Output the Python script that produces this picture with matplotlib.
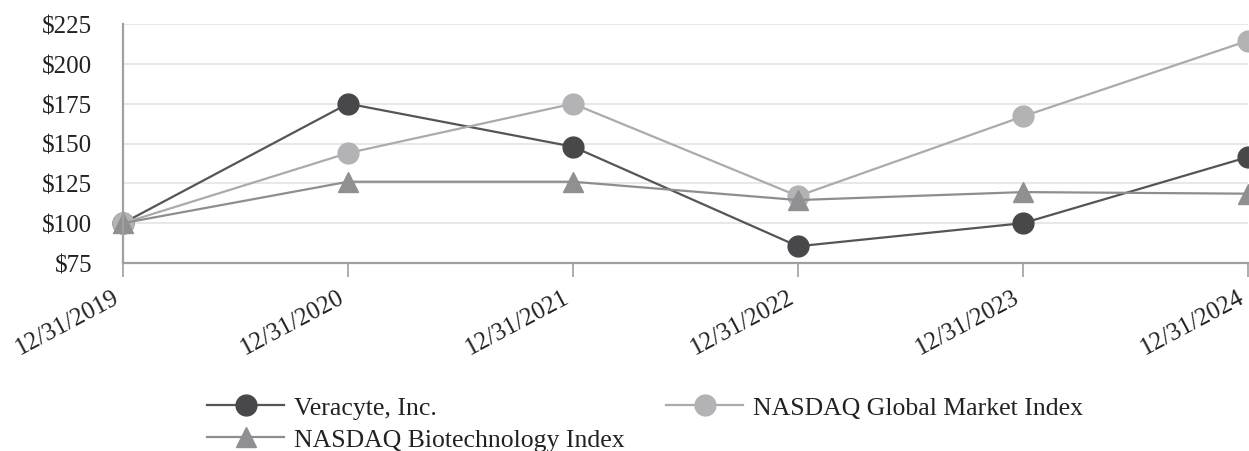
import matplotlib
matplotlib.use("Agg")
import matplotlib.pyplot as plt

dates = ["12/31/2019", "12/31/2020", "12/31/2021", "12/31/2022", "12/31/2023", "12/31/2024"]
veracyte = [100, 175, 148, 85.5, 100, 141.5]
nasdaq_global = [100, 144, 175, 117, 167, 214.5]
nasdaq_biotech = [100, 126, 126, 114.5, 119.5, 118.5]
yticks = [75, 100, 125, 150, 175, 200, 225]

plt.rcParams['font.family'] = ['Liberation Serif', 'DejaVu Serif']

fig = plt.figure(figsize=(12.49, 4.52), dpi=100)
ax = fig.add_axes([123/1249, 1-264/452, (1248-123)/1249, (264-25)/452])

x = list(range(len(dates)))
series = [
    ("Veracyte, Inc.", veracyte, "#555557", "#48484a", "o", 15),
    ("NASDAQ Global Market Index", nasdaq_global, "#ababad", "#b3b3b5", "o", 15),
    ("NASDAQ Biotechnology Index", nasdaq_biotech, "#8e8e90", "#909092", "^", 14),
]
handles = {}
for name, vals, lc, mc, m, ms in series:
    ln, = ax.plot(x, vals, color=lc, lw=1.6, marker=m, markersize=ms,
                  markerfacecolor=mc, markeredgecolor=mc, clip_on=False, label=name)
    handles[name] = ln

ax.set_xlim(0, len(dates)-1)
ax.set_ylim(75, 225)
ax.set_yticks(yticks)
ax.set_yticklabels([f"${v}" for v in yticks], fontsize=18, color="#222222")
ax.set_xticks(x)
ax.set_xticklabels(dates, rotation=28, ha='right', va='top', fontsize=18, color="#222222")
ax.tick_params(axis='y', length=0, pad=22)
ax.tick_params(axis='x', length=10, width=1.2, color="#a0a0a0", pad=6)
ax.grid(axis='y', color="#e8e8e8", lw=1.5)
ax.set_axisbelow(True)
for s in ['top', 'right']:
    ax.spines[s].set_visible(False)
for s in ['left', 'bottom']:
    ax.spines[s].set_color("#a0a0a0")
    ax.spines[s].set_linewidth(1.6)

order = ["Veracyte, Inc.", "NASDAQ Biotechnology Index", "NASDAQ Global Market Index"]
leg = fig.legend([handles[n] for n in order], order, ncol=2, loc='upper left',
                 bbox_to_anchor=(207/1249, 1-397/452), frameon=False, fontsize=18.5,
                 handlelength=3.0, handletextpad=0.4, columnspacing=1.6,
                 labelspacing=0.35, borderpad=0, borderaxespad=0)
for t in leg.get_texts():
    t.set_color("#222222")

fig.savefig("out.png", dpi=100)
